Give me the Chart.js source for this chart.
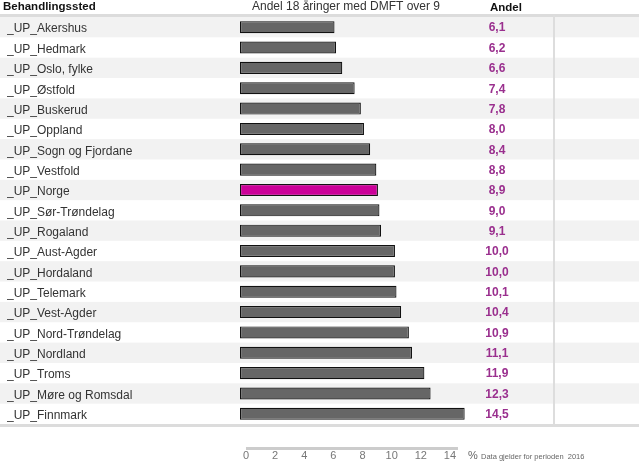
<!DOCTYPE html>
<html>
<head>
<meta charset="utf-8">
<script src="https://cdn.jsdelivr.net/npm/chart.js@4/dist/chart.umd.min.js"></script>
<style>
html,body{margin:0;padding:0;background:#fff;}
canvas{display:block;}
</style>
</head>
<body>
<canvas id="c" width="639" height="462"></canvas>
<script>
const categories = ["_UP_Akershus","_UP_Hedmark","_UP_Oslo, fylke","_UP_Østfold","_UP_Buskerud","_UP_Oppland","_UP_Sogn og Fjordane","_UP_Vestfold","_UP_Norge","_UP_Sør-Trøndelag","_UP_Rogaland","_UP_Aust-Agder","_UP_Hordaland","_UP_Telemark","_UP_Vest-Agder","_UP_Nord-Trøndelag","_UP_Nordland","_UP_Troms","_UP_Møre og Romsdal","_UP_Finnmark"];
const values = [6.1,6.2,6.6,7.4,7.8,8.0,8.4,8.8,8.9,9.0,9.1,10.0,10.0,10.1,10.4,10.9,11.1,11.9,12.3,14.5];
const highlight = "_UP_Norge";
const tickValues = [0,2,4,6,8,10,12,14];
const headerLabel = "Behandlingssted";
const headerTitle = "Andel 18 åringer med DMFT over 9";
const headerValue = "Andel";
const unitLabel = "%";
const footnote = "Data gjelder for perioden  2016";

const FONT = "Arial, 'Liberation Sans', sans-serif";

const tablePlugin = {
  id: 'tablePlugin',
  beforeDraw(chart) {
    const ctx = chart.ctx;
    const y = chart.scales.y;
    const ca = chart.chartArea;
    const n = categories.length;
    const h = (ca.bottom - ca.top) / n;
    ctx.save();
    for (let i = 0; i < n; i++) {
      if (i % 2 === 0) {
        const cy = y.getPixelForValue(i);
        ctx.fillStyle = '#f2f2f2';
        ctx.fillRect(0, cy - h / 2, chart.width, h);
      }
    }
    ctx.fillStyle = '#dcdcdc';
    ctx.fillRect(0, ca.top - 3, chart.width, 3);
    ctx.fillRect(0, ca.bottom, chart.width, 3);
    ctx.fillStyle = '#dddddd';
    ctx.fillRect(553, ca.top - 2, 2, ca.bottom - ca.top + 2);
    ctx.restore();
  },
  afterDraw(chart) {
    const ctx = chart.ctx;
    const y = chart.scales.y;
    const x2 = chart.scales.x2;
    ctx.save();
    ctx.textBaseline = 'middle';
    ctx.fillStyle = '#111';
    ctx.font = 'bold 11.5px ' + FONT;
    ctx.textAlign = 'left';
    ctx.fillText(headerLabel, 3, 6.5);
    ctx.fillText(headerValue, 490, 8);
    ctx.fillStyle = '#333';
    ctx.font = '12px ' + FONT;
    ctx.textAlign = 'center';
    ctx.fillText(headerTitle, 346, 6.5);
    ctx.fillStyle = '#9a2f8e';
    ctx.font = 'bold 12px ' + FONT;
    ctx.textAlign = 'center';
    values.forEach((v, i) => {
      ctx.fillText(v.toFixed(1).replace('.', ','), 497, y.getPixelForValue(i) + 1);
    });
    ctx.fillStyle = '#cccccc';
    const x0 = x2.getPixelForValue(0);
    const x1 = x2.getPixelForValue(14.55);
    ctx.fillRect(x0, 447, x1 - x0, 3);
    ctx.fillStyle = '#666';
    ctx.textAlign = 'left';
    ctx.font = '11px ' + FONT;
    ctx.fillText(unitLabel, 468, 456);
    ctx.font = '7.5px ' + FONT;
    ctx.fillText(footnote, 481, 457);
    ctx.restore();
  }
};

new Chart(document.getElementById('c'), {
  type: 'bar',
  data: {
    labels: categories,
    datasets: [{
      data: values,
      backgroundColor: categories.map(c => c === highlight ? '#cc0099' : '#666666'),
      borderColor: '#111111',
      borderWidth: 1.2,
      borderSkipped: false,
      categoryPercentage: 1,
      barPercentage: 0.59,
      xAxisID: 'x',
      yAxisID: 'y'
    }]
  },
  options: {
    indexAxis: 'y',
    responsive: false,
    animation: false,
    devicePixelRatio: 1,
    layout: { padding: { top: 17, left: 7, right: 172, bottom: 0 } },
    plugins: { legend: { display: false }, tooltip: { enabled: false } },
    scales: {
      x: { type: 'linear', display: false, min: 0, max: 14.65 },
      x2: {
        type: 'linear', position: 'bottom', min: -0.41, max: 15.17,
        grid: { display: false, drawTicks: false },
        border: { display: false },
        afterBuildTicks: s => { s.ticks = tickValues.map(v => ({ value: v })); },
        afterFit: s => { s.height = 38; },
        ticks: { color: '#777', padding: 25, font: { size: 11, family: FONT }, callback: v => String(v), autoSkip: false, maxRotation: 0 }
      },
      y: {
        type: 'category',
        grid: { display: false, drawTicks: false },
        border: { display: false },
        afterFit: s => { s.width = 233; },
        ticks: { crossAlign: 'far', color: '#333', padding: 0, labelOffset: 2, autoSkip: false, font: { size: 12, family: FONT } }
      }
    }
  },
  plugins: [tablePlugin]
});
</script>
</body>
</html>
